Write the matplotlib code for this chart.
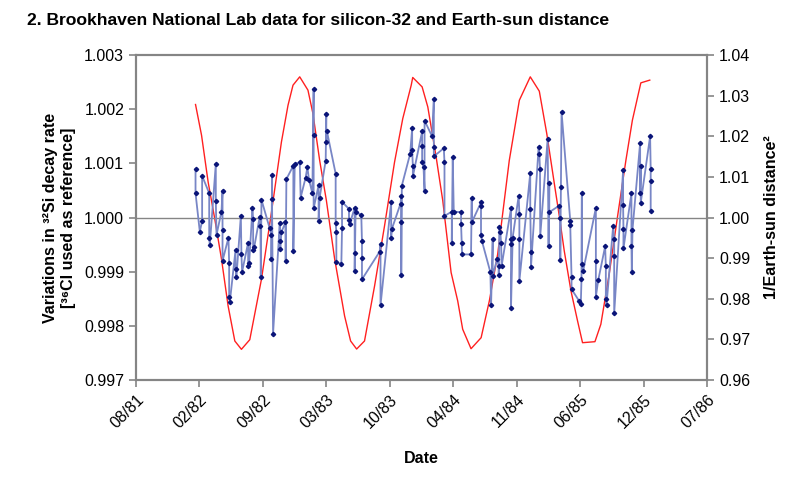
import datetime as dt
import matplotlib
matplotlib.use("Agg")
import matplotlib.pyplot as plt
import matplotlib.dates as mdates
import numpy as np

# Si-32 decay rate ratio (time in decimal years)
si_year = [
    1982.094, 1982.094, 1982.131, 1982.151, 1982.151, 1982.212, 1982.212, 1982.217,
    1982.269, 1982.269, 1982.275, 1982.318, 1982.327, 1982.327, 1982.327, 1982.378,
    1982.384, 1982.384, 1982.390, 1982.439, 1982.439, 1982.447, 1982.485, 1982.490,
    1982.496, 1982.548, 1982.548, 1982.557, 1982.585, 1982.591, 1982.591, 1982.600,
    1982.648, 1982.654, 1982.657, 1982.663, 1982.734, 1982.749, 1982.749, 1982.754,
    1982.754, 1982.763, 1982.821, 1982.821, 1982.826, 1982.835, 1982.869, 1982.872,
    1982.878, 1982.938, 1982.938, 1982.950, 1982.993, 1983.001, 1983.044, 1983.059,
    1983.073, 1983.102, 1983.113, 1983.113, 1983.113, 1983.156, 1983.156, 1983.165,
    1983.217, 1983.222, 1983.222, 1983.228, 1983.303, 1983.303, 1983.309, 1983.309,
    1983.352, 1983.358, 1983.358, 1983.418, 1983.418, 1983.424, 1983.467, 1983.467,
    1983.467, 1983.475, 1983.524, 1983.530, 1983.530, 1983.530, 1983.682, 1983.690,
    1983.690, 1983.782, 1983.782, 1983.788, 1983.863, 1983.869, 1983.869, 1983.869,
    1983.874, 1983.946, 1983.963, 1983.963, 1983.969, 1983.969, 1984.049, 1984.049,
    1984.049, 1984.061, 1984.070, 1984.070, 1984.135, 1984.150, 1984.150, 1984.150,
    1984.236, 1984.242, 1984.242, 1984.305, 1984.305, 1984.313, 1984.322, 1984.385,
    1984.385, 1984.391, 1984.394, 1984.471, 1984.477, 1984.477, 1984.557, 1984.557,
    1984.557, 1984.566, 1984.638, 1984.644, 1984.658, 1984.658, 1984.695, 1984.710,
    1984.710, 1984.715, 1984.724, 1984.730, 1984.735, 1984.816, 1984.816, 1984.816,
    1984.816, 1984.830, 1984.882, 1984.888, 1984.888, 1984.888, 1984.982, 1984.982,
    1984.988, 1984.988, 1985.054, 1985.060, 1985.066, 1985.068, 1985.132, 1985.140,
    1985.146, 1985.146, 1985.232, 1985.241, 1985.241, 1985.246, 1985.252, 1985.327,
    1985.327, 1985.338, 1985.338, 1985.404, 1985.418, 1985.424, 1985.427, 1985.427,
    1985.439, 1985.548, 1985.548, 1985.548, 1985.568, 1985.628, 1985.634, 1985.634,
    1985.640, 1985.697, 1985.706, 1985.706, 1985.706, 1985.783, 1985.783, 1985.786,
    1985.786, 1985.855, 1985.855, 1985.858, 1985.864, 1985.930, 1985.930, 1985.935,
    1985.935, 1986.016, 1986.021, 1986.021, 1986.021,
]
si_ratio = [
    1.00089, 1.00045, 0.99974, 0.99994, 1.00077, 1.00045, 0.99963, 0.99949,
    1.00099, 1.00031, 0.99968, 1.00011, 1.00050, 0.99978, 0.99920, 0.99963,
    0.99916, 0.99854, 0.99844, 0.99940, 0.99906, 0.99891, 1.00003, 0.99932,
    0.99900, 0.99954, 0.99911, 0.99917, 1.00017, 0.99997, 0.99940, 0.99945,
    1.00002, 0.99985, 0.99891, 1.00033, 0.99980, 0.99968, 0.99924, 1.00079,
    1.00034, 0.99786, 0.99990, 0.99957, 0.99942, 0.99973, 0.99991, 0.99920,
    1.00071, 1.00096, 0.99939, 1.00099, 1.00102, 1.00037, 1.00074, 1.00093,
    1.00070, 1.00045, 1.00237, 1.00152, 1.00017, 1.00060, 0.99994, 1.00037,
    1.00105, 1.00192, 1.00139, 1.00159, 1.00081, 0.99990, 0.99974, 0.99918,
    0.99914, 0.99980, 1.00029, 1.00016, 0.99995, 0.99988, 1.00018, 0.99934,
    0.99902, 1.00010, 1.00005, 0.99956, 0.99925, 0.99886, 0.99937, 0.99951,
    0.99838, 1.00029, 0.99963, 0.99979, 1.00026, 1.00040, 0.99991, 0.99894,
    1.00059, 1.00118, 1.00165, 1.00124, 1.00096, 1.00076, 1.00159, 1.00133,
    1.00103, 1.00093, 1.00050, 1.00179, 1.00150, 1.00219, 1.00130, 1.00113,
    1.00128, 1.00102, 1.00003, 1.00011, 0.99954, 1.00111, 1.00011, 1.00010,
    0.99988, 0.99953, 0.99932, 0.99932, 1.00036, 0.99991, 1.00028, 1.00021,
    0.99968, 0.99956, 0.99899, 0.99839, 0.99961, 0.99892, 0.99923, 0.99911,
    0.99894, 0.99982, 0.99973, 0.99954, 0.99911, 1.00017, 0.99960, 0.99951,
    0.99834, 0.99963, 1.00040, 1.00007, 0.99960, 0.99883, 1.00082, 1.00015,
    0.99936, 0.99908, 1.00130, 1.00118, 1.00090, 0.99966, 1.00145, 0.99947,
    1.00064, 1.00010, 1.00022, 1.00000, 0.99922, 1.00056, 1.00195, 0.99994,
    0.99986, 0.99891, 0.99868, 0.99846, 0.99840, 0.99887, 1.00045, 0.99914,
    0.99902, 1.00018, 0.99920, 0.99854, 0.99884, 0.99947, 0.99910, 0.99849,
    0.99839, 0.99984, 0.99960, 0.99929, 0.99823, 1.00087, 1.00024, 0.99979,
    0.99943, 1.00045, 0.99948, 0.99899, 0.99978, 1.00138, 1.00045, 1.00096,
    1.00027, 1.00150, 1.00090, 1.00068, 1.00013,
]

# 1 / Earth-sun distance squared
sun_year = [
    1982.094, 1982.146, 1982.203, 1982.260, 1982.318, 1982.375, 1982.433, 1982.490,
    1982.562, 1982.663, 1982.749, 1982.835, 1982.892, 1982.935, 1982.993, 1983.064,
    1983.107, 1983.165, 1983.223, 1983.294, 1983.380, 1983.432, 1983.484, 1983.552,
    1983.639, 1983.725, 1983.811, 1983.882, 1983.955, 1983.968, 1984.049, 1984.098,
    1984.170, 1984.227, 1984.299, 1984.356, 1984.399, 1984.471, 1984.558, 1984.629,
    1984.701, 1984.758, 1984.801, 1984.888, 1984.982, 1985.060, 1985.124, 1985.203,
    1985.232, 1985.275, 1985.333, 1985.390, 1985.433, 1985.540, 1985.591, 1985.663,
    1985.734, 1985.807, 1985.863, 1985.936, 1986.013,
]
sun_inv_d2 = [
    1.02783, 1.02025, 1.00872, 0.99968, 0.98980, 0.97827, 0.96963, 0.96758,
    0.96995, 0.98486, 1.00131, 1.01859, 1.02765, 1.03259, 1.03464, 1.03136,
    1.02560, 1.01407, 1.00420, 0.98988, 0.97580, 0.96963, 0.96765, 0.96963,
    0.98321, 0.99802, 1.01365, 1.02437, 1.03259, 1.03449, 1.03217, 1.02723,
    1.01489, 1.00420, 0.98649, 0.97950, 0.97252, 0.96773, 0.97044, 0.97950,
    0.99104, 1.00420, 1.01407, 1.02889, 1.03464, 1.03111, 1.02074, 1.00585,
    1.00049, 0.99185, 0.98198, 0.97457, 0.96921, 0.96946, 0.97375, 0.98610,
    1.00007, 1.01407, 1.02395, 1.03316, 1.03383,
]

def to_num(years):
    base = mdates.date2num(dt.datetime(1981, 1, 1))
    return base + (np.array(years) - 1981.0) * 365.25

bold_font = ['Liberation Sans', 'DejaVu Sans']
tick_font = ['Liberation Sans', 'DejaVu Sans']
grey = '#858585'

fig = plt.figure(figsize=(8, 4.83), dpi=100)
ax = fig.add_axes([0.17, 0.213, 0.714, 0.673])
ax2 = ax.twinx()
ax.set_zorder(2)
ax2.set_zorder(1)
ax.patch.set_visible(False)

start = mdates.date2num(dt.datetime(1981, 8, 1))
ax.axhline(1.0, color=grey, lw=1.0, zorder=1)
ax2.plot(to_num(sun_year), sun_inv_d2, color='#ff2020', lw=1.0)
ax.plot(to_num(si_year), si_ratio, color='#7886c6', lw=1.3,
        marker='D', markersize=2.2, markerfacecolor='#0a1478',
        markeredgecolor='#0a1478', zorder=3)

ax.set_xlim(start, start + 1800)
ax.set_ylim(0.997, 1.003)
ax2.set_ylim(0.96, 1.04)
ax.set_xticks([start + 200 * k for k in range(10)])
ax.xaxis.set_major_formatter(mdates.DateFormatter('%m/%y'))
ax.set_yticks(np.arange(0.997, 1.0031, 0.001))
ax.yaxis.set_major_formatter(matplotlib.ticker.FormatStrFormatter('%.3f'))
ax2.set_yticks(np.arange(0.96, 1.0401, 0.01))
ax2.yaxis.set_major_formatter(matplotlib.ticker.FormatStrFormatter('%.2f'))

for a in (ax, ax2):
    for s in a.spines.values():
        s.set_color(grey)
        s.set_linewidth(1.5)
    a.tick_params(colors=grey, length=5, width=1.2, labelcolor='black',
                  labelsize=11.5)
for lab in ax.get_xticklabels() + ax.get_yticklabels() + ax2.get_yticklabels():
    lab.set_family(tick_font)
for lab in ax.get_xticklabels():
    lab.set_rotation(45)
    lab.set_ha('right')
    lab.set_rotation_mode('anchor')

ax.set_xlabel('Date', family=bold_font, fontweight='bold', fontsize=11.5, labelpad=14)
ax.set_ylabel('Variations in \u00b3\u00b2Si decay rate\n[\u00b3\u2076Cl used as reference]',
              family=bold_font, fontweight='bold', fontsize=11.5, labelpad=6,
              linespacing=1.2)
ax2.set_ylabel('1/Earth-sun distance\u00b2', family=bold_font, fontweight='bold',
               fontsize=11.5, labelpad=10)

fig.text(0.034, 0.958, '2. Brookhaven National Lab data for silicon-32 and Earth-sun distance',
         family=bold_font, fontweight='bold', fontsize=12.6, va='center')

fig.savefig('out.png', dpi=100)
